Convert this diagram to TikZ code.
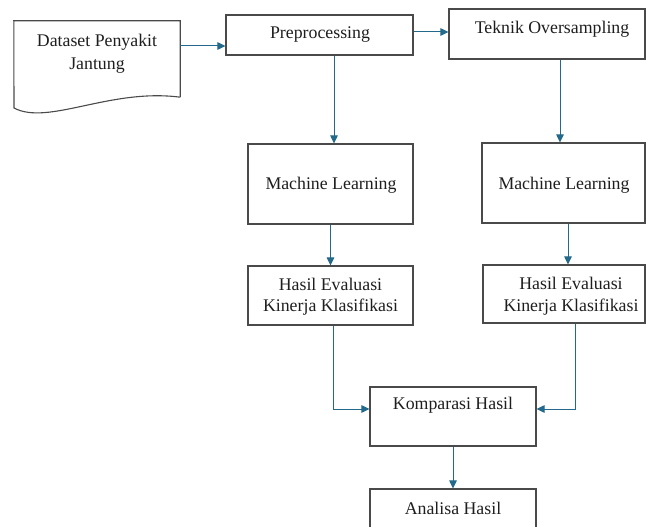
\documentclass[tikz,border=0pt]{standalone}
\usepackage{fontspec}
\setmainfont{Liberation Serif}
\usetikzlibrary{arrows.meta}
\definecolor{arrcol}{HTML}{23698C}
\definecolor{boxcol}{HTML}{4A4A4A}
\definecolor{txtcol}{HTML}{1E1E1E}
\begin{document}
\begin{tikzpicture}[x=1pt,y=-1pt,
  box/.style={draw=boxcol,line width=1.1pt,rectangle,inner sep=0pt},
  lbl/.style={text=txtcol,align=center,inner sep=0pt,font=\fontsize{17.8}{21.5}\selectfont},
  arr/.style={draw=arrcol,line width=1pt,-{Triangle[length=8pt,width=7.5pt]}}]
\useasboundingbox (0,0) rectangle (646,527);
% dataset (document shape)
\node[inner sep=0pt,minimum width=166pt,minimum height=76pt] (data) at (97,59) {};
\draw[draw=boxcol,line width=1.1pt] (data.south east) -- (data.north east) -- (data.north west) -- (14,108)
  .. controls (48,126) and (110,88) .. (data.south east);
\node[lbl,font=\fontsize{17.8}{23}\selectfont] (tdata) at (97,53.5) {Dataset Penyakit\\Jantung};
% boxes
\node[box,minimum width=187pt,minimum height=40pt] (pre) at (319.5,35) {};
\node[box,minimum width=196pt,minimum height=50pt] (tek) at (547,34) {};
\node[box,minimum width=165pt,minimum height=80pt] (mlL) at (330.5,184) {};
\node[box,minimum width=163pt,minimum height=80pt] (mlR) at (563.5,183) {};
\node[box,minimum width=165pt,minimum height=59pt] (hasL) at (330.5,295.5) {};
\node[box,minimum width=162pt,minimum height=58pt] (hasR) at (564,294) {};
\node[box,minimum width=166pt,minimum height=59pt] (komp) at (453,416.5) {};
\node[box,minimum width=166pt,minimum height=59pt] (ana) at (453,518.5) {};
% texts
\node[lbl] (tpre) at (320,34.5) {Preprocessing};
\node[lbl] (ttek) at (552,29.5) {Teknik Oversampling};
\node[lbl] (tmlL) at (331,185.5) {Machine Learning};
\node[lbl] (tmlR) at (564,185.5) {Machine Learning};
\node[lbl] (thasL) at (330.5,296.5) {Hasil Evaluasi\\Kinerja Klasifikasi};
\node[lbl] (thasR) at (571,296) {Hasil Evaluasi\\Kinerja Klasifikasi};
\node[lbl] (tkomp) at (453,405) {Komparasi Hasil};
\node[lbl] (tana) at (453,508.5) {Analisa Hasil};
% connectors
\draw[arr] (data.east |- 0,46) -- ([yshift=-11pt]pre.west);
\draw[arr] ([yshift=3pt]pre.east) -- ([yshift=3pt]pre.east -| tek.west);
\draw[arr] ([xshift=3.5pt]mlL.north |- pre.south) -- ([xshift=3.5pt]mlL.north);
\draw[arr] ([xshift=-3.5pt]mlR.north |- tek.south) -- ([xshift=-3.5pt]mlR.north);
\draw[arr] (mlL.south) -- (mlL.south |- hasL.north);
\draw[arr] ([xshift=4pt]hasR.north |- mlR.south) -- ([xshift=4pt]hasR.north);
\draw[arr] ([xshift=2.5pt]hasL.south) |- ([yshift=7.5pt]komp.west);
\draw[arr] ([xshift=11pt]hasR.south) |- ([yshift=7.5pt]komp.east);
\draw[arr] (komp.south) -- (ana.north);
\end{tikzpicture}
\end{document}
